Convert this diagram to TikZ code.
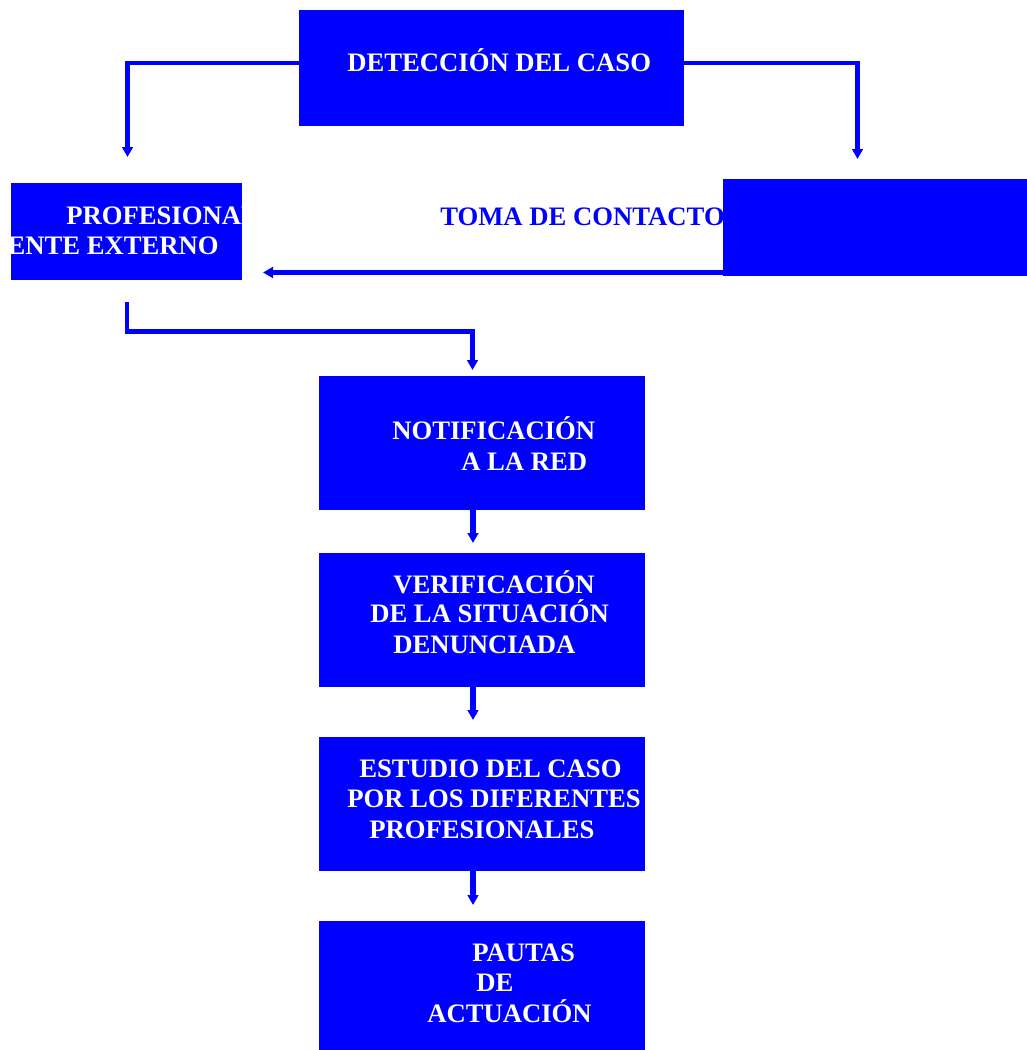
\documentclass[tikz,border=0pt]{standalone}
\usepackage{fontspec}
\setmainfont{Liberation Serif}
\usetikzlibrary{arrows.meta}
\definecolor{pureblue}{RGB}{0,0,255}
\tikzset{
  box/.style={fill=pureblue, draw=none, inner sep=0pt, outer sep=0pt},
  txt/.style={text=white, font=\fontsize{20}{22.5}\selectfont\bfseries, inner sep=0pt, anchor=base west},
  conn/.style={draw=pureblue, line width=3.5pt, -{Triangle[length=7.5pt,width=8pt]}},
}
\begin{document}
\begin{tikzpicture}[x=0.75pt, y=-0.75pt]
\useasboundingbox (0,0) rectangle (1027,1050);

% boxes
\path[box] (299,10) rectangle (684,126) node[pos=0.5] (det) {};
\path[box] (11,183) rectangle (242,280) node[pos=0.5] (prof) {};
\path[box] (319,376) rectangle (645,510) node[pos=0.5] (notif) {};
\path[box] (319,553) rectangle (645,687) node[pos=0.5] (verif) {};
\path[box] (319,737) rectangle (645,871) node[pos=0.5] (estud) {};
\path[box] (319,921) rectangle (645,1050) node[pos=0.5] (pautas) {};

% texts
\node[txt] (t1) at (347,71) {DETECCIÓN DEL CASO};
\begin{scope}
  \clip (11,183) rectangle (242,280);
  \node[txt] (t2) at (66,224) {PROFESIONAL};
  \node[txt, anchor=base east] (t3) at (219,254) {ENTE EXTERNO};
\end{scope}
\node[txt, text=pureblue] (toma) at (440,225) {TOMA DE CONTACTO};
\path[box] (723,179) rectangle (1027,276) node[pos=0.5] (ext) {};

\node[txt] (n1) at (392,439) {NOTIFICACIÓN};
\node[txt] (n2) at (461,470) {A LA RED};
\node[txt] (v1) at (393,593) {VERIFICACIÓN};
\node[txt] (v2) at (370,622) {DE LA SITUACIÓN};
\node[txt] (v3) at (393,653) {DENUNCIADA};
\node[txt] (e1) at (359,777) {ESTUDIO DEL CASO};
\node[txt] (e2) at (347,807) {POR LOS DIFERENTES};
\node[txt] (e3) at (369,838) {PROFESIONALES};
\node[txt] (p1) at (472,961) {PAUTAS};
\node[txt] (p2) at (476,991) {DE};
\node[txt] (p3) at (427,1022) {ACTUACIÓN};

% connector end points
\coordinate (dl) at (299,63);
\coordinate (dlt) at (127.5,157);
\coordinate (dr) at (684,63);
\coordinate (drt) at (857.5,159);
\coordinate (es) at (723,272.5);
\coordinate (et) at (263,272.5);
\coordinate (ps) at (127,302);
\coordinate (nt) at (472.5,370);
\coordinate (c1) at (473,510);
\coordinate (c1t) at (473,543);
\coordinate (c2) at (473,687);
\coordinate (c2t) at (473,720);
\coordinate (c3) at (473,871);
\coordinate (c3t) at (473,905);

% connectors
\draw[conn] (dl) -| (dlt);
\draw[conn] (dr) -| (drt);
\draw[conn, line width=4pt] (es) -- (et);
\draw[conn] (ps) |- (300,331.5) -| (nt);
\draw[conn, line width=4pt] (c1) -- (c1t);
\draw[conn, line width=4pt] (c2) -- (c2t);
\draw[conn, line width=4pt] (c3) -- (c3t);
\end{tikzpicture}
\end{document}
